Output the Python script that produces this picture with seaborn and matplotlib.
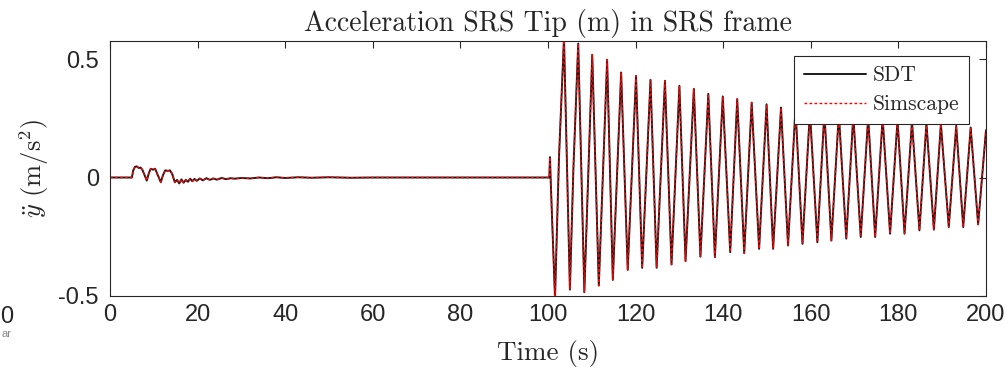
import numpy as np
import pandas as pd
import matplotlib
matplotlib.use("Agg")
import matplotlib.pyplot as plt
import seaborn as sns

# ---------------- data ----------------
# quiet part, 0-100 s
early_t = [0, 5.0, 5.3, 5.7, 6.1, 6.6, 7.0, 7.4, 7.9, 8.4, 8.9, 9.3, 9.8, 10.3, 10.8,
           11.6, 12.1, 12.6, 13.2, 13.7, 14.2, 14.8, 15.3, 15.8, 16.3, 16.8, 17.3,
           17.8, 18.3, 18.8, 19.3, 19.8, 20.5, 21.2, 22.0, 22.8, 23.6, 24.4, 25.5,
           26.5, 27.5, 28.5, 30, 32, 34, 36, 38, 40, 43, 46, 50, 55, 60, 70, 80, 90,
           100.3]
early_y = [0, 0, 0.03, 0.045, 0.047, 0.04, 0.042, 0.032, 0.01, -0.013, 0.02, 0.037,
           0.033, 0.037, 0.015, -0.02, 0.01, 0.03, 0.028, 0.03, 0.015, -0.02, -0.01,
           -0.025, -0.008, -0.022, -0.01, -0.018, -0.005, -0.016, -0.006, -0.014,
           -0.004, -0.012, -0.003, -0.01, -0.004, -0.009, -0.002, -0.007, -0.003,
           -0.005, -0.002, -0.004, 0.0, -0.003, 0.001, -0.002, 0.001, -0.001, 0.001,
           -0.001, 0.0, 0.0, 0.0, 0.0, 0.0]

# spike at ~100 s then the oscillation (peaks / troughs)
osc_t = [100.45, 100.65, 101.6, 102.5, 103.65, 105.0, 105.8, 106.9, 108.3, 110.1,
         111.6, 113.5, 114.8, 116.7, 118.2, 120.1, 121.5, 123.4, 124.8, 126.7, 128.2,
         130.0, 131.4, 133.3, 134.8, 136.6, 138.1, 139.9, 141.6, 143.2, 144.8, 146.5,
         148.2, 149.9, 151.4, 153.2, 154.8, 156.5, 158.1, 159.8, 161.5, 163.1, 164.7,
         166.4, 168.1, 169.7, 171.4, 173.1, 174.7, 176.4, 178.1, 179.8, 181.4, 183.1,
         184.8, 186.4, 188.1, 189.7, 191.5, 193.2, 194.8, 196.5, 198.2, 200.0]
osc_y = [0.086, -0.03, -0.51, 0.08, 0.59, -0.473, 0.038, 0.565, -0.484, 0.518,
         -0.456, 0.497, -0.432, 0.443, -0.390, 0.429, -0.381, 0.412, -0.381, 0.408,
         -0.367, 0.387, -0.353, 0.374, -0.334, 0.353, -0.336, 0.342, -0.315, 0.331,
         -0.319, 0.316, -0.301, 0.309, -0.301, 0.295, -0.287, 0.290, -0.280, 0.280,
         -0.273, 0.275, -0.266, 0.268, -0.258, 0.262, -0.251, 0.255, -0.251, 0.250,
         -0.237, 0.243, -0.237, 0.236, -0.223, 0.229, -0.220, 0.226, -0.209, 0.218,
         -0.209, 0.211, -0.198, 0.200]

time = early_t + osc_t
sdt_y = early_y + osc_y
simscape_y = list(sdt_y)          # the two curves coincide in the picture

x_ticks = [0, 20, 40, 60, 80, 100, 120, 140, 160, 180, 200]
y_ticks = [-0.5, 0, 0.5]
y_tick_labels = ["-0.5", "0", "0.5"]

# ---------------- plot ----------------
sns.set_theme(style="white")
plt.rcParams["mathtext.fontset"] = "cm"
plt.rcParams["axes.unicode_minus"] = False

fig = plt.figure(figsize=(10.07, 3.68), dpi=100)
ax = fig.add_axes([110 / 1007, 1 - 296 / 368, 876 / 1007, 255 / 368])

df_sdt = pd.DataFrame({"t": time, "y": sdt_y})
df_sim = pd.DataFrame({"t": time, "y": simscape_y})

sns.lineplot(data=df_sdt, x="t", y="y", ax=ax, color="#1a1a1a", linewidth=1.4,
             estimator=None, sort=False, label="SDT")
sns.lineplot(data=df_sim, x="t", y="y", ax=ax, color="red", linewidth=1.0,
             estimator=None, sort=False, label="Simscape", dashes=False)
ax.lines[1].set_dashes((2, 1.6))

ax.set_xlim(0, 200)
ax.set_ylim(-0.5, 0.576)
ax.set_xticks(x_ticks)
ax.set_xticklabels([str(v) for v in x_ticks])
ax.set_yticks(y_ticks)
ax.set_yticklabels(y_tick_labels)

tick_font = "Liberation Sans"
for lab in ax.get_xticklabels() + ax.get_yticklabels():
    lab.set_fontfamily(tick_font)
    lab.set_fontsize(17)
    lab.set_color("#262626")

ax.tick_params(direction="in", top=True, right=True, length=5, width=0.8,
               colors="#262626", pad=6)
ax.tick_params(axis="y", pad=8)
for s in ax.spines.values():
    s.set_color("#262626")
    s.set_linewidth(0.8)
    s.set_visible(True)

ax.set_title("Acceleration SRS Tip (m) in SRS frame", fontfamily="cmr10",
             fontsize=20, color="#262626", pad=7)
ax.set_xlabel("Time (s)", fontfamily="cmr10", fontsize=19.5, color="#262626",
              labelpad=10)
ax.set_ylabel(r"$\ddot{y}$ (m/s$^2$)", fontfamily="cmr10", fontsize=19,
              color="#262626", labelpad=5)

leg = ax.legend(loc="upper right", bbox_to_anchor=(1 - 17 / 876, 1 - 15 / 255),
                borderaxespad=0, fancybox=False, framealpha=1, edgecolor="#262626",
                handlelength=2.9, prop={"family": "cmr10", "size": 15.5},
                borderpad=0.45, labelspacing=0.45, handletextpad=0.3)
leg.get_frame().set_linewidth(0.8)

# stray fragments at the left edge of the original image
fig.text(0 / 1007, 1 - 317 / 368, "0", ha="left", va="center", fontsize=17,
         fontfamily=tick_font, color="#262626")
fig.text(2 / 1007, 1 - 334 / 368, "ar", ha="left", va="center", fontsize=8,
         fontfamily=tick_font, color="#888888")

fig.savefig("out.png", dpi=100)
